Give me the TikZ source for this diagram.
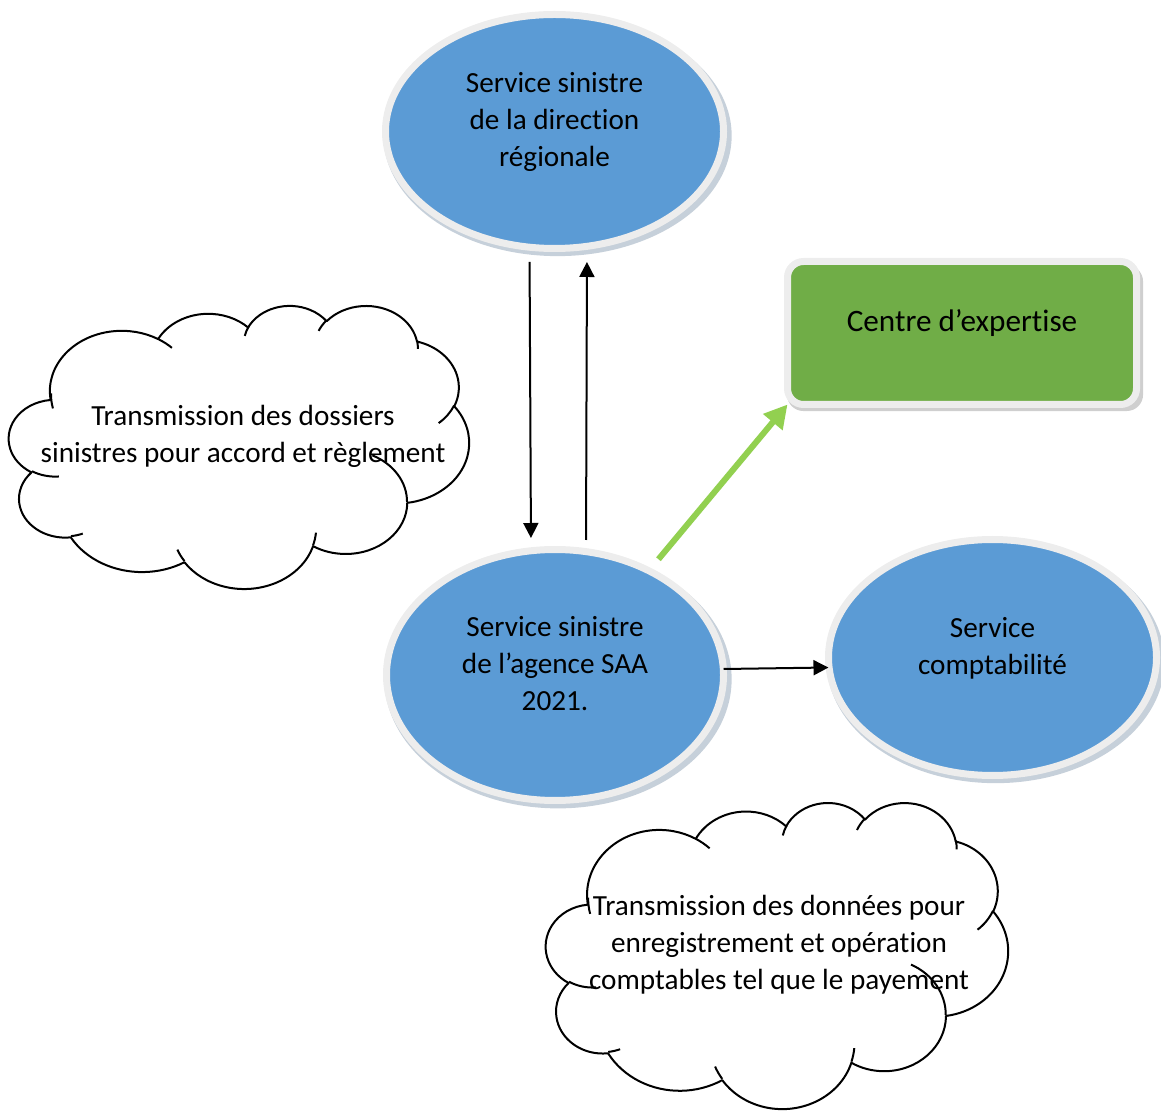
\documentclass[tikz,border=0pt]{standalone}
\usepackage{fontspec}
\setmainfont{Carlito}[Ligatures={NoCommon,NoContextual}]
\usetikzlibrary{shapes.geometric,shadows,arrows.meta}
\definecolor{saablue}{HTML}{5B9BD5}
\definecolor{ringgray}{HTML}{EDEDED}
\definecolor{ellshadow}{HTML}{C6D0DA}
\definecolor{boxshadow}{HTML}{CFCFCF}
\definecolor{expgreen}{HTML}{70AD47}
\definecolor{arrowgreen}{HTML}{92D050}

% one arc of the cloud outline: name, x radius, y radius, start, sweep
\newcommand\cloudarc[5]{%
  \pgfmathsetmacro\cloudS{atan2(#2*sin(#4),#3*cos(#4))}%
  \pgfmathsetmacro\cloudD{mod(atan2(#2*sin(#4+#5),#3*cos(#4+#5))-\cloudS+720,360)}%
  \edef\cloudtmp{\noexpand\tikzset{#1/.style={x radius=#2,y radius=#3,
    start angle=\cloudS,delta angle=\cloudD}}}\cloudtmp}
\cloudarc{lobe1}{6.753}{9.190}{-190.4875}{123.7805}
\cloudarc{lobe2}{5.333}{7.267}{-144.1024}{89.9452}
\cloudarc{lobe3}{4.365}{5.945}{-145.8079}{99.7230}
\cloudarc{lobe4}{4.857}{6.595}{-130.9861}{117.2417}
\cloudarc{lobe5}{5.333}{7.273}{-78.7089}{109.0269}
\cloudarc{lobe6}{6.775}{9.220}{-46.2673}{130.2690}
\cloudarc{lobe7}{5.785}{7.867}{0.6250}{114.0333}
\cloudarc{lobe8}{6.752}{9.215}{22.4516}{115.1726}
\cloudarc{lobe9}{7.720}{10.543}{66.2426}{75.7110}
\cloudarc{lobe10}{4.360}{5.918}{-274.9421}{146.7356}
\cloudarc{lobe11}{4.345}{5.945}{-246.8285}{152.5189}
\cloudarc{tail1}{4.345}{5.945}{86.7420}{26.4295}
\cloudarc{tail2}{4.360}{5.918}{73.6105}{11.4475}
\cloudarc{tail3}{6.752}{9.215}{137.6242}{14.0811}
\cloudarc{tail4}{6.752}{9.215}{6.4533}{15.9984}
\cloudarc{tail5}{5.785}{7.867}{-70.2924}{70.9174}
\cloudarc{tail6}{5.333}{7.273}{30.3180}{27.7515}
\cloudarc{tail7}{4.857}{6.595}{-13.7443}{14.8589}
\cloudarc{tail8}{4.857}{6.595}{-149.1815}{18.1954}
\cloudarc{tail9}{4.365}{5.945}{-163.4943}{17.6864}
\cloudarc{tail10}{6.753}{9.190}{-66.7070}{12.3194}
\cloudarc{tail11}{6.753}{9.190}{162.0353}{19.4305}

% cloud drawn in a 43.2 x 43.2 box
\newcommand\cloudshape{%
  \draw[cloudline,fill=white] (3.900,14.370) arc[lobe1] arc[lobe2] arc[lobe3]
    arc[lobe4] arc[lobe5] arc[lobe6] arc[lobe7] arc[lobe8] arc[lobe9]
    arc[lobe10] arc[lobe11] -- cycle;
  \draw[cloudline] (4.693,26.177) arc[tail1] (6.928,34.899) arc[tail2]
    (16.478,39.090) arc[tail3] (28.827,34.751) arc[tail4]
    (34.129,22.954) arc[tail5] (41.798,15.354) arc[tail6]
    (38.324,5.426) arc[tail7] (29.078,3.952) arc[tail8]
    (22.141,4.720) arc[tail9] (14.000,5.192) arc[tail10]
    (4.127,15.789) arc[tail11];
}

\begin{document}
\begin{tikzpicture}[x=0.5pt,y=-0.5pt,
    service/.style={ellipse,fill=saablue,draw=ringgray,line width=3.5pt,
      inner sep=0pt,outer sep=0pt,
      drop shadow={shadow xshift=1.5pt,shadow yshift=-2pt,shadow scale=1.03,
        fill=ellshadow,opacity=1}},
    lbl/.style={align=center,font=\fontsize{14.6}{18.5}\selectfont},
    flow/.style={line width=1pt,-{Triangle[length=7.5pt,width=7.5pt]}},
    cloudline/.style={line width=1pt,line join=round}]
        \useasboundingbox (0,0) rectangle (1161,1111);

        % services
        \node[service,minimum width=169pt,minimum height=117pt] (dir) at (554.5,131.5) {};
        \node[lbl] (dirtext) at ([yshift=5pt]dir.center) {Service sinistre\\de la direction\\régionale};
        \node[service,minimum width=168.5pt,minimum height=125.5pt] (agence) at (555,675) {};
        \node[lbl] (agencetext) at ([yshift=5.5pt]agence.center) {Service sinistre\\de l’agence SAA\\2021.};
        \node[service,minimum width=164pt,minimum height=118pt] (compta) at (992.5,657.5) {};
        \node[lbl] (comptatext) at ([yshift=4.5pt]compta.center) {Service\\comptabilité};

        % expertise
        \node[rectangle,rounded corners=8pt,fill=expgreen,draw=ringgray,line width=3.5pt,
          inner sep=0pt,outer sep=0pt,minimum width=174.5pt,minimum height=71.5pt,
          drop shadow={shadow xshift=1.5pt,shadow yshift=-2.5pt,shadow scale=1.02,
            fill=boxshadow,opacity=1}] (expert) at (962,333) {};
        \node[lbl,font=\fontsize{15.6}{19}\selectfont] (experttext) at ([yshift=5pt]expert.center) {Centre d’expertise};

        % arrows
        \draw[flow,shorten <=6.75pt,shorten >=5.75pt] ([xshift=-12.5pt]dir.south) -- ([xshift=-12pt]agence.north);
        \draw[flow,shorten <=4.75pt,shorten >=6.75pt] ([xshift=15.5pt]agence.north) -- ([xshift=16.25pt]dir.south);
        \draw[flow] ([yshift=3pt]agence.east) -- ([yshift=-5pt]compta.west);
        \draw[line width=3pt,arrowgreen,-{Triangle[length=11.5pt,width=12pt]},shorten <=7.5pt]
          (agence.48) -- (expert.south west);

        % clouds
        \begin{scope}[shift={(9,305)},x=5.324pt,y=-3.2755pt]
          \cloudshape
        \end{scope}
        \node[lbl] (dossiers) at (243,436) {Transmission des dossiers\\sinistres pour accord et règlement};
        \begin{scope}[shift={(546,802)},x=5.347pt,y=-3.5417pt]
          \cloudshape
        \end{scope}
        \node[lbl] (donnees) at (779,945) {Transmission des données pour\\enregistrement et opération\\comptables tel que le payement};
    \end{tikzpicture}
\end{document}
